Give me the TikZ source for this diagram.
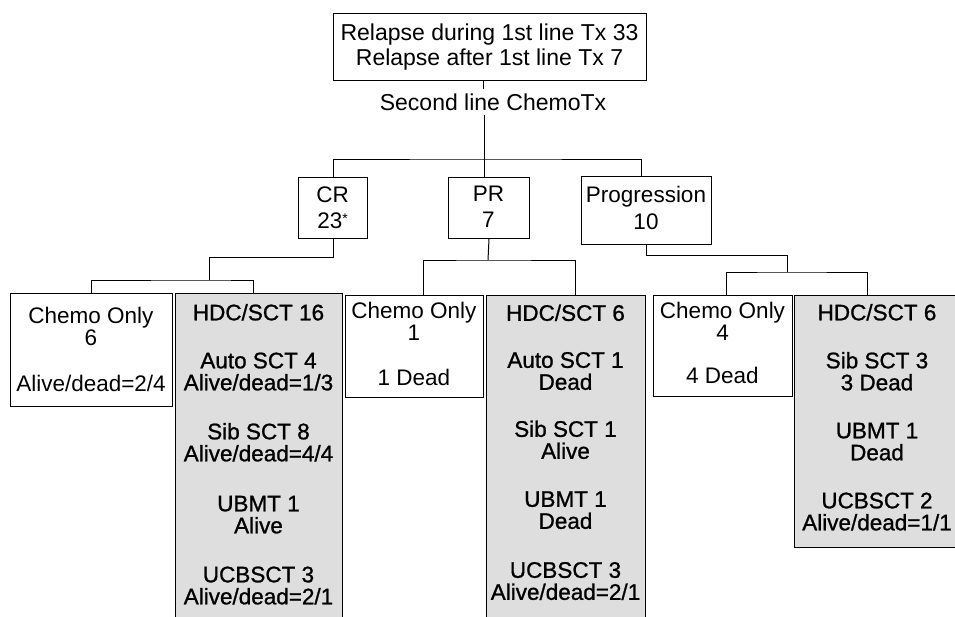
\documentclass[tikz,border=0pt]{standalone}
\usepackage{fontspec}
\setmainfont{Liberation Sans}
\newfontfamily\heavyfont[FakeBold=1.0]{Liberation Sans}
\definecolor{shade}{RGB}{222,222,222}
\begin{document}
\begin{tikzpicture}[x=1pt,y=-1pt,line width=1pt,
  box/.style={draw=black,rectangle,anchor=north west,inner sep=0pt},
  shadedbox/.style={box,fill=shade},
  txt/.style={anchor=north,align=center,inner sep=0pt,font=\fontsize{22.5}{22}\selectfont},
  htxt/.style={txt,font=\heavyfont\fontsize{22.5}{22}\selectfont},
  conn/.style={draw=black,line width=1pt}]
\useasboundingbox (0,0) rectangle (955,616);
\clip (0,0) rectangle (955,616);
\fill[white] (0,0) rectangle (955,616);
% boxes
\node[box,minimum width=313pt,minimum height=67pt] (top) at (333,13) {};
\node[box,minimum width=69pt,minimum height=61pt] (cr) at (298,177) {};
\node[box,minimum width=81pt,minimum height=61pt] (pr) at (448,177) {};
\node[box,minimum width=130pt,minimum height=68pt] (prog) at (581,176) {};
\node[box,minimum width=162pt,minimum height=113pt] (b1) at (10,293) {};
\node[shadedbox,minimum width=167pt,minimum height=340pt] (b2) at (175,293) {};
\node[box,minimum width=138pt,minimum height=102pt] (b3) at (345,295) {};
\node[shadedbox,minimum width=159pt,minimum height=340pt] (b4) at (486,295) {};
\node[box,minimum width=139pt,minimum height=101pt] (b5) at (653,295) {};
\node[shadedbox,minimum width=170pt,minimum height=252pt] (b6) at (794,295) {};
% texts
\node[txt,font=\fontsize{23}{25}\selectfont] (toptxt) at (489.5,23.5)
  {Relapse during 1st line Tx 33\\Relapse after 1st line Tx 7};
\node[anchor=north,inner xsep=0pt,inner ysep=4pt,font=\fontsize{23}{25}\selectfont] (second) at (493,89)
  {Second line ChemoTx};
\node[txt,font=\fontsize{22.5}{26}\selectfont] (crtxt) at (332.5,186)
  {CR\\23\raisebox{5pt}{\fontsize{14}{14}\selectfont *}};
\node[txt,font=\fontsize{22.5}{26}\selectfont] (prtxt) at (488.5,186) {PR\\7};
\node[txt,font=\fontsize{22.5}{27}\selectfont] (progtxt) at (646,186) {Progression\\10};
\node[txt] (t1) at (91,306.5) {Chemo Only\\6\\[24pt]Alive/dead=2/4};
\node[htxt] (t2) at (258.5,303.5) {HDC/SCT 16\\[26pt]Auto SCT 4\\Alive/dead=1/3\\[27pt]Sib SCT 8\\Alive/dead=4/4\\[28pt]UBMT 1\\Alive\\[27pt]UCBSCT 3\\Alive/dead=2/1};
\node[txt] (t3) at (414,301.5) {Chemo Only\\1\\[23pt]1 Dead};
\node[htxt] (t4) at (565.5,304) {HDC/SCT 6\\[25pt]Auto SCT 1\\Dead\\[25pt]Sib SCT 1\\Alive\\[26pt]UBMT 1\\Dead\\[27pt]UCBSCT 3\\Alive/dead=2/1};
\node[txt] (t5) at (722.5,301.5) {Chemo Only\\4\\[21pt]4 Dead};
\node[htxt] (t6) at (877,303.5) {HDC/SCT 6\\[26pt]Sib SCT 3\\3 Dead\\[26pt]UBMT 1\\Dead\\[26pt]UCBSCT 2\\Alive/dead=1/1};
% connector coordinates
\coordinate (v1) at (483,0);
\coordinate (v2) at (484,0);
\coordinate (bar1) at (484,159);
\coordinate (crk) at (209,257);
\coordinate (crb) at (209,280);
\coordinate (prb) at (488,260);
\coordinate (pgk) at (787,255);
\coordinate (pgb) at (787,272);
% connectors
\draw[conn] (v1 |- top.south) -- (v1 |- second.north);
\draw[conn] (v2 |- second.south) -- (v2 |- pr.north);
\draw[conn] (cr.north) |- (bar1) -| ([xshift=-5pt]prog.north);
\draw[conn] (cr.south) |- (crk) -- (crb);
\draw[conn] (b1.north) |- (crb) -| ([xshift=-6pt]b2.north);
\draw[conn] (pr.south) -- (prb);
\draw[conn] ([xshift=9pt]b3.north) |- (prb) -| ([xshift=9pt]b4.north);
\draw[conn] (prog.south) |- (pgk) -- (pgb);
\draw[conn] ([xshift=3pt]b5.north) |- (pgb) -| ([xshift=-12pt]b6.north);
\end{tikzpicture}
\end{document}
